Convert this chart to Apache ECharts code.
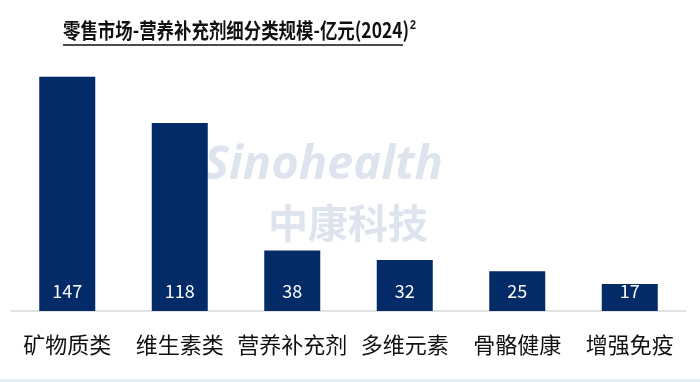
<!DOCTYPE html>
<html><head><meta charset="utf-8">
<script src="https://cdn.jsdelivr.net/npm/echarts@6/dist/echarts.min.js"></script>
<style>html,body{margin:0;padding:0;background:#fff;}#c{width:700px;height:382px;}</style>
</head><body><div id="c"></div>
<script>
const categories = ['矿物质类', '维生素类', '营养补充剂', '多维元素', '骨骼健康', '增强免疫'];
const values = [147, 118, 38, 32, 25, 17];
const titleText = '零售市场-营养补充剂细分类规模-亿元(2024)';

const chart = echarts.init(document.getElementById('c'));
chart.setOption({
  backgroundColor: '#ffffff',
  animation: false,
  grid: { left: 11, right: 14, top: 72, bottom: 71, containLabel: false },
  xAxis: {
    type: 'category', data: categories,
    axisLine: { lineStyle: { color: '#d9d9d9', width: 1.5 } },
    axisTick: { show: false },
    axisLabel: { fontSize: 22, color: '#111', margin: 23, fontFamily: 'Noto Sans CJK SC', interval: 0 }
  },
  yAxis: { type: 'value', min: 0, max: 150, show: false, splitLine: { show: false } },
  series: [{
    type: 'bar', data: values, barWidth: 56,
    itemStyle: { color: '#022b67' },
    label: { show: true, position: 'insideBottom', distance: 11, color: '#fff', fontSize: 18, fontFamily: 'Noto Sans CJK SC' },
    z: 3
  }],
  graphic: [
    { type: 'text', left: 204, top: 142, z: 0, silent: true,
      style: { text: 'Sinohealth', font: 'italic bold 47px "Open Sans"', fill: 'rgba(160,178,205,0.35)' } },
    { type: 'text', left: 268, top: 203, z: 0, silent: true,
      style: { text: '中康科技', font: 'bold 40px "Noto Sans CJK SC"', fill: 'rgba(160,178,205,0.35)' } },
    { type: 'text', x: 63, y: 19, z: 10, scaleX: 0.83,
      style: { text: titleText + '{s|2}', font: 'bold 21px "Noto Sans CJK SC"', fill: '#111',
        rich: { s: { fontSize: 13, fontWeight: 'bold', verticalAlign: 'top', padding: [0,0,10,1], fill: '#111' } } } },
    { type: 'line', z: 10, shape: { x1: 63, y1: 45, x2: 403, y2: 45 }, style: { stroke: '#111', lineWidth: 1.5 } },
    { type: 'rect', z: 0, shape: { x: 0, y: 379, width: 700, height: 3 }, style: { fill: '#e3f0fa' } }
  ]
});
</script></body></html>
